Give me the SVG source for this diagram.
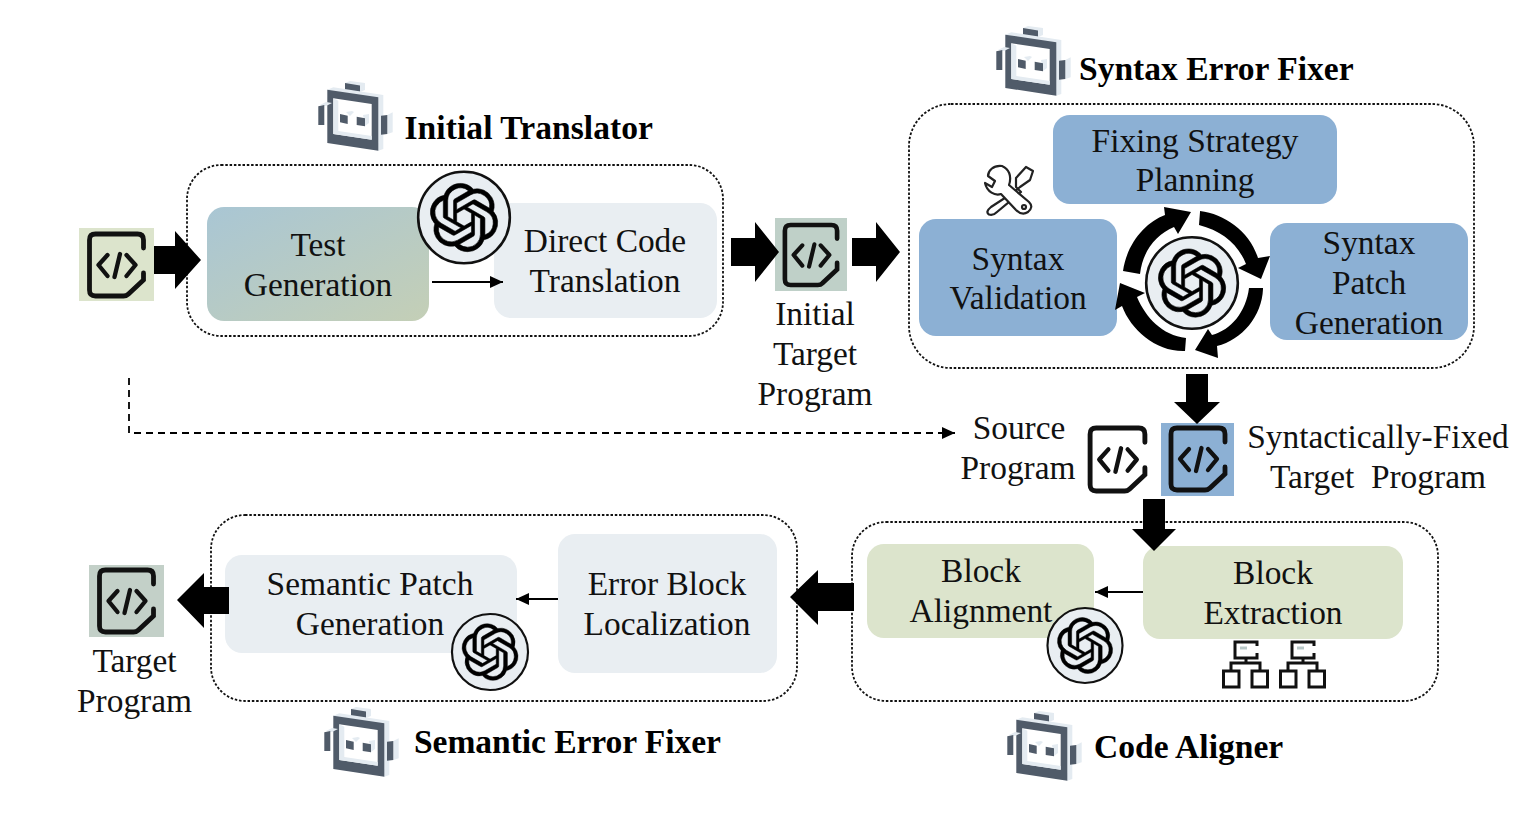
<svg xmlns="http://www.w3.org/2000/svg" width="1535" height="817" viewBox="0 0 1535 817">
<style>
text{font-family:"Liberation Serif","Times New Roman",serif;font-size:33.4px;fill:#111;text-anchor:middle}
.t{font-weight:bold;font-size:33.55px;text-anchor:start;fill:#000}
.box{fill:none;stroke:#111;stroke-width:1.8;stroke-dasharray:2.5 1.8}
.blue{fill:#8cb0d4}.green{fill:#dce4cc}.grey{fill:#e9eef2}
.ln{fill:none;stroke:#000;stroke-width:2}
.d{fill:#505b69}.l{fill:#e4ebf1}
</style>
<defs>
<linearGradient id="mix" x1="0" y1="0" x2="1" y2="1"><stop offset="0" stop-color="#a9c6d4"/><stop offset="1" stop-color="#c4cfb6"/></linearGradient>
<symbol id="gpt" viewBox="-40 -40 80 80" overflow="visible">
<circle r="39" fill="#e9eef2" stroke="#111" stroke-width="2.200"/>
<path transform="translate(-29 -29) scale(2.420)" fill="#000" stroke="#000" stroke-width=".2" d="M22.2819 9.8211a5.9847 5.9847 0 0 0-.5157-4.9108 6.0462 6.0462 0 0 0-6.5098-2.9A6.0651 6.0651 0 0 0 4.9807 4.1818a5.9847 5.9847 0 0 0-3.9977 2.9 6.0462 6.0462 0 0 0 .7427 7.0966 5.98 5.98 0 0 0 .511 4.9107 6.051 6.051 0 0 0 6.5146 2.9001A5.9847 5.9847 0 0 0 13.2599 24a6.0557 6.0557 0 0 0 5.7718-4.2058 5.9894 5.9894 0 0 0 3.9977-2.9001 6.0557 6.0557 0 0 0-.7475-7.0729zm-9.022 12.6081a4.4755 4.4755 0 0 1-2.8764-1.0408l.1419-.0804 4.7783-2.7582a.7948.7948 0 0 0 .3927-.6813v-6.7369l2.02 1.1686a.071.071 0 0 1 .038.052v5.5826a4.504 4.504 0 0 1-4.4945 4.4944zm-9.6607-4.1254a4.4708 4.4708 0 0 1-.5346-3.0137l.142.0852 4.783 2.7582a.7712.7712 0 0 0 .7806 0l5.8428-3.3685v2.3324a.0804.0804 0 0 1-.0332.0615L9.74 19.9502a4.4992 4.4992 0 0 1-6.1408-1.6464zM2.3408 7.8956a4.485 4.485 0 0 1 2.3655-1.9728V11.6a.7664.7664 0 0 0 .3879.6765l5.8144 3.3543-2.0201 1.1685a.0757.0757 0 0 1-.071 0l-4.8303-2.7865A4.504 4.504 0 0 1 2.3408 7.872zm16.5963 3.8558L13.1038 8.364 15.1192 7.2a.0757.0757 0 0 1 .071 0l4.8303 2.7913a4.4944 4.4944 0 0 1-.6765 8.1042v-5.6772a.79.79 0 0 0-.407-.667zm2.0107-3.0231l-.142-.0852-4.7735-2.7818a.7759.7759 0 0 0-.7854 0L9.409 9.2297V6.8974a.0662.0662 0 0 1 .0284-.0615l4.8303-2.7866a4.4992 4.4992 0 0 1 6.6802 4.66zM8.3065 12.863l-2.02-1.1638a.0804.0804 0 0 1-.038-.0567V6.0742a4.4992 4.4992 0 0 1 7.3757-3.4537l-.142.0805L8.704 5.459a.7948.7948 0 0 0-.3927.6813zm1.0976-2.3654l2.602-1.4998 2.6069 1.4998v2.9994l-2.5974 1.4997-2.6067-1.4997Z"/>
</symbol>
<symbol id="bot" viewBox="0 0 76 72" overflow="visible">
<path class="l" d="M27 2l5-2 15 2v7l-5 2z"/><path class="d" d="M27 2l15 2.500V11L27 9z"/>
<path class="l" d="M9.300 8.700l6-2.400 50 7.700V68l-5 1.700z"/>
<path class="d" d="M9.300 8.700l51 7.600V69.700l-51-7.700z"/>
<path fill="#fff" d="M15.300 17.300L53.700 23V58.700L15.300 53z"/>
<path class="l" d="M15.300 17.300l5 2.500V50l33.400 5v3.700L15.300 53z"/>
<path class="l" d="M28 31l6-1 2 1-4 4zM45 34l6-1v9l-4 3z"/>
<path class="d" d="M22 33l7.700 1.700V43L22 41.300zM38.700 35.700l8.300 1.600v8L38.700 44z"/>
<path class="l" d="M2 24l6-3 6 1-6 3z"/><path class="d" d="M.3 25.300L6.300 24V44H.3z"/>
<path class="l" d="M69.300 34l5.400-2.700v20L69.300 53z"/><path class="d" d="M63 34.700L69.300 34V53L63 53.700z"/>
</symbol>
<symbol id="code" viewBox="0 0 60 68" overflow="visible">
<path d="M57 42V49L42 63Q40 65 37 65H9Q3 65 3 59V9Q3 3 9 3H51Q57 3 57 9V17" fill="none" stroke="#111" stroke-width="4.800" stroke-linecap="round"/>
<path d="M21 24L12 34L21 45M40 24L49 34L40 45" fill="none" stroke="#111" stroke-width="4.300" stroke-linecap="round" stroke-linejoin="round"/>
<path d="M33.500 23L28 46" fill="none" stroke="#111" stroke-width="4.300" stroke-linecap="round"/>
</symbol>
<symbol id="tree" viewBox="0 0 46 48" overflow="visible">
<path d="M13 1H35V17H13z" fill="#fff" stroke="#111" stroke-width="3"/><path d="M35 5V12" stroke="#fff" stroke-width="4"/><path d="M18 7h7" stroke="#b9c8c8" stroke-width="3"/>
<path d="M24 17V22M9 30V22H38V30" fill="none" stroke="#111" stroke-width="3"/>
<path d="M1.500 30H17V46H1.500zM30 30H45.500V46H30z" fill="#fff" stroke="#111" stroke-width="3"/>
</symbol>
<marker id="ah" markerUnits="userSpaceOnUse" markerWidth="14" markerHeight="12" refX="13" refY="6" orient="auto"><path d="M0 0L13 6L0 12z" fill="#000"/></marker>
</defs>

<g id="source-icon"><rect x="79" y="228" width="75" height="73" fill="#dce4cc"/><use href="#code" x="86" y="231" width="61" height="68"/></g>

<g id="initial-translator">
<rect class="box" x="187" y="165" width="536" height="171" rx="34"/>
<use href="#bot" x="318" y="81" width="76" height="72"/>
<text class="t" x="404.500" y="139" textLength="248.500">Initial Translator</text>
</g>
<g id="test-generation"><rect x="207" y="207" width="222" height="114" rx="17" fill="url(#mix)"/><text x="318" y="256">Test</text><text x="318" y="296">Generation</text></g>
<g id="direct-code-translation"><rect x="494" y="203" width="223" height="115" rx="17" class="grey"/><text x="605" y="252">Direct Code</text><text x="605" y="292">Translation</text></g>
<g id="gpt-1"><use href="#gpt" x="417" y="170" width="94" height="95"/></g>

<g id="initial-target"><rect x="775" y="218" width="72" height="73" fill="#bfd0c8"/><use href="#code" x="782" y="221" width="58" height="68"/><text x="815" y="325">Initial</text><text x="815" y="365">Target</text><text x="815" y="405">Program</text></g>

<g id="syntax-error-fixer">
<rect class="box" x="909" y="104" width="565" height="264" rx="42"/>
<use href="#bot" x="996" y="26" width="76" height="72"/>
<text class="t" x="1079" y="80">Syntax Error Fixer</text>
</g>
<g id="fixing-strategy"><rect x="1053" y="115" width="284" height="89" rx="17" class="blue"/><text x="1195" y="152">Fixing Strategy</text><text x="1195" y="191">Planning</text></g>
<g id="tools" fill="#fff" stroke="#222" stroke-width="2.200" stroke-linejoin="round">
<path d="M1016 178L1026 167 1033 171 1030 180 1020 187 1014 192 991 207Q985 212 989 214.500 993 216 997 212L1021 192 1016 187z"/>
<path d="M1002 166C993 165 988 171 988 176L995 181 992 187 985 183C987 192 995 196 1001 194L1016 210Q1022 216 1028 212 1034 207 1029 202L1009 185C1012 176 1009 169 1002 166z"/>
<circle cx="1024" cy="207" r="2"/>
</g>
<g id="syntax-validation"><rect x="919" y="219" width="198" height="117" rx="17" class="blue"/><text x="1018" y="270">Syntax</text><text x="1018" y="309">Validation</text></g>
<g id="syntax-patch"><rect x="1270" y="223" width="198" height="117" rx="17" class="blue"/><text x="1369" y="254">Syntax</text><text x="1369" y="294">Patch</text><text x="1369" y="334">Generation</text></g>
<g id="gpt-2"><use href="#gpt" x="1144" y="236" width="96" height="94"/></g>

<g id="source-program"><text x="1019" y="439">Source</text><text x="1018" y="479">Program</text><use href="#code" x="1087" y="425" width="61" height="69"/></g>
<g id="syntactically-fixed"><rect x="1161" y="423" width="73" height="73" fill="#8cb0d4"/><use href="#code" x="1168" y="425" width="60" height="68"/><text x="1378" y="448">Syntactically-Fixed</text><text x="1378" y="488" xml:space="preserve">Target  Program</text></g>

<g id="code-aligner">
<rect class="box" x="852" y="522" width="586" height="179" rx="34"/>
<use href="#bot" x="1007" y="711" width="76" height="72"/>
<text class="t" x="1094" y="758">Code Aligner</text>
</g>
<g id="block-alignment"><rect x="867" y="544" width="227" height="94" rx="17" class="green"/><text x="981" y="582">Block</text><text x="981" y="622">Alignment</text></g>
<g id="block-extraction"><rect x="1143" y="546" width="260" height="93" rx="17" class="green"/><text x="1273" y="584">Block</text><text x="1273" y="624">Extraction</text></g>
<g id="gpt-3"><use href="#gpt" x="1046" y="607" width="78" height="77"/></g>
<g id="trees"><use href="#tree" x="1222" y="641" width="46" height="48"/><use href="#tree" x="1279" y="641" width="46" height="48"/></g>

<g id="semantic-error-fixer">
<rect class="box" x="211" y="515" width="586" height="186" rx="34"/>
<use href="#bot" x="324" y="707" width="76" height="72"/>
<text class="t" x="414" y="753" textLength="307">Semantic Error Fixer</text>
</g>
<g id="semantic-patch"><rect x="225" y="555" width="292" height="98" rx="17" class="grey"/><text x="370" y="595">Semantic Patch</text><text x="370" y="635">Generation</text></g>
<g id="error-block"><rect x="558" y="534" width="219" height="139" rx="17" class="grey"/><text x="667" y="595">Error Block</text><text x="667" y="635">Localization</text></g>
<g id="gpt-4"><use href="#gpt" x="451" y="613" width="78" height="78"/></g>

<g id="target-program"><rect x="89" y="565" width="75" height="72" fill="#c3d0c8"/><use href="#code" x="96" y="567" width="61" height="68"/><text x="134.500" y="672">Target</text><text x="134.500" y="712">Program</text></g>

<g id="connectors">
<path d="M154 246H175V231L201 260L175 289V274H154z" fill="#000"/>
<path d="M731 238H755V222L779 252L755 282V266H731z" fill="#000"/>
<path d="M852 238H876V222L900 252L876 282V266H852z" fill="#000"/>
<path d="M1186 374H1208V402H1220L1197 424L1174 402H1186z" fill="#000"/>
<path d="M1143 499H1165V529H1176L1154 551L1132 529H1143z" fill="#000"/>
<path d="M854 583V611H818V625L790 597L818 570V583z" fill="#000"/>
<path d="M229 587V614H204V628L177 600L204 573V587z" fill="#000"/>
<path class="ln" d="M432 282H503" marker-end="url(#ah)"/>
<path class="ln" d="M558 599H516" stroke-width="1.600" marker-end="url(#ah)"/>
<path class="ln" d="M1143 592H1095" stroke-width="1.600" marker-end="url(#ah)"/>
<path d="M129 378V433H955" fill="none" stroke="#000" stroke-width="1.800" stroke-dasharray="7 5" marker-end="url(#ah)"/>
<g fill="#000">
<path d="M1123 271C1127 243 1146 222 1165 215L1164 207L1191 212L1178 234L1174 227C1156 235 1143 250 1140 274z"/>
<path d="M1200 212L1200 211C1225 214 1250 232 1258 258L1270 256L1261 279L1238 268L1246 264C1238 244 1222 231 1199 225z"/>
<path d="M1263 288L1263 289C1262 316 1242 340 1217 346L1218 358L1195 350L1208 329L1212 335C1231 330 1246 312 1249 288z"/>
<path d="M1185 351C1156 352 1131 330 1122 306L1115 310L1120 283L1145 293L1137 297C1146 318 1162 335 1186 338z"/>
</g>
</g>
</svg>
